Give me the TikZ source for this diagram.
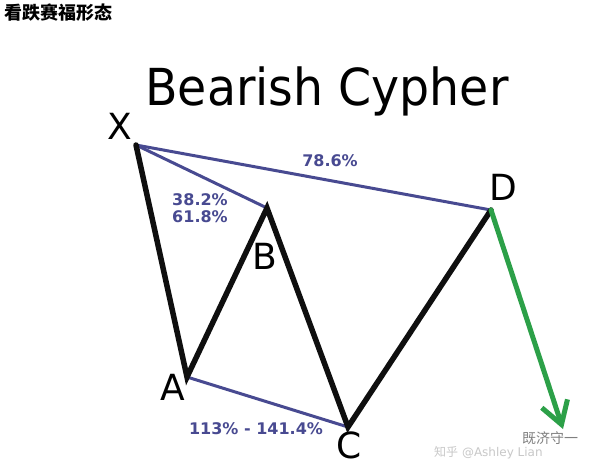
\documentclass[tikz,border=0pt]{standalone}
\usepackage{fontspec}
\setmainfont{DejaVu Sans}
\newfontfamily\cjk{Noto Sans CJK SC}
\usetikzlibrary{arrows.meta}
\definecolor{fibblue}{RGB}{72,74,145}
\definecolor{wave}{RGB}{15,15,15}
\definecolor{arrowgreen}{RGB}{44,160,72}
\definecolor{wm}{RGB}{200,200,200}
\begin{document}
\begin{tikzpicture}[x=1pt,y=-1pt,
  wavel/.style={draw=wave,line width=5.5pt,line cap=round,line join=miter},
  fibl/.style={draw=fibblue,line width=3pt,line cap=round},
  ptlabel/.style={font=\fontsize{36}{36}\selectfont,text=black,inner sep=0pt},
  fiblabel/.style={font=\fontsize{16}{17}\selectfont\bfseries,text=fibblue,inner sep=0pt,align=left},
  greenarrow/.style={draw=arrowgreen,line width=5pt,line cap=round,-{Straight Barb[length=22pt,width=27pt,line width=5pt]}}]
\useasboundingbox (0,0) rectangle (601,467);
\fill[white] (0,0) rectangle (601,467);
% header
\node[anchor=west,inner sep=0pt,font=\cjk\bfseries\fontsize{18}{18}\selectfont] (hdr) at (4,13) {看跌赛福形态};
% title
\node[inner sep=0pt,anchor=base,font=\fontsize{51}{51}\selectfont] (title) at (327,105) {\scalebox{0.93}[1]{Bearish Cypher}};
% points
\coordinate (X) at (136,145);
\coordinate (A) at (187,377);
\coordinate (B) at (267,208);
\coordinate (C) at (348,427);
\coordinate (D) at (491,210);
\coordinate (T) at (563,429);
% fib lines
\draw[fibl] (X) -- (D);
\draw[fibl] (X) -- (B);
\draw[fibl] (A) -- (C);
% wave
\draw[wavel] (X) -- (A) -- (B) -- (C) -- (D);
% green arrow
\draw[greenarrow] (D) -- (T);
% point labels
\node[ptlabel] (lX) at (120,126) {X};
\node[ptlabel] (lA) at (173,387) {A};
\node[ptlabel] (lB) at (265,256) {B};
\node[ptlabel] (lC) at (349,445) {C};
\node[ptlabel] (lD) at (503,187) {D};
% fib labels
\node[fiblabel] (fXD) at (330,161) {78.6\%};
\node[fiblabel] (fXB) at (200,208) {38.2\%\\61.8\%};
\node[fiblabel] (fAC) at (256,429) {113\% - 141.4\%};
% watermarks
\node[anchor=west,inner sep=0pt,text=wm,font=\fontsize{12}{12}\selectfont] (wm1) at (434,453) {{\cjk 知乎} @Ashley Lian};
\node[anchor=west,inner sep=0pt,text=gray,font=\cjk\fontsize{14}{14}\selectfont] (wm2) at (522,438) {既济守一};
\end{tikzpicture}
\end{document}
